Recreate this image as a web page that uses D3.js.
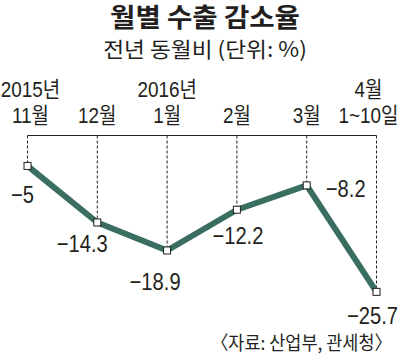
<!DOCTYPE html>
<html>
<head>
<meta charset="utf-8">
<script src="https://cdn.jsdelivr.net/npm/d3@7"></script>
<style>
  body { margin: 0; background: #fff; }
  svg { display: block; }
  text { fill: #231f20; }
</style>
</head>
<body>
<svg id="chart" width="402" height="354"></svg>
<script>
const months = ['2015-11', '2015-12', '2016-01', '2016-02', '2016-03', '2016-04']
const values = [-5, -14.3, -18.9, -12.2, -8.2, -25.7]
const yearLabels = ['2015년', '', '2016년', '', '', '4월']
const monthLabels = ['11월', '12월', '1월', '2월', '3월', '1~10일']
const title = '월별 수출 감소율'
const subtitle = '전년 동월비 (단위: %)'
const source = '〈자료: 산업부, 관세청〉'

// label nudges relative to each point (layout only)
const labelNudge = [[-5, 37], [-15, 30], [-12, 40], [1, 34], [39, 12], [-4, 32]]
const columnNudge = [3, 0, 0, 0, 0, -8]

const svg = d3.select('#chart')
const latin = '"Liberation Sans", "Noto Sans CJK KR", sans-serif'
const kr = '"Noto Sans CJK KR", sans-serif'

const addText = (str, x, y, opt) => {
  return svg.append('text')
    .attr('transform', 'translate(' + x + ',' + y + ') scale(' + (opt.sx || 1) + ',1)')
    .attr('text-anchor', opt.anchor || 'middle')
    .style('font-family', opt.family || latin)
    .style('font-size', opt.size + 'px')
    .style('font-weight', opt.weight || 400)
    .text(str)
}

const x = d3.scalePoint()
  .domain(months)
  .range([27.5, 376.5])

const y = d3.scaleLinear()
  .domain([0, -30])
  .range([135.5, 318])

// titles
addText(title, 205, 27, { size: 26, weight: 700, family: kr, sx: 1.06 })
addText(subtitle, 205, 57, { size: 21, family: kr, sx: 1.08 })

// category labels
months.forEach((m, i) => {
  const cx = x(m) + columnNudge[i]
  if (yearLabels[i]) addText(yearLabels[i], cx, 97, { size: 22, sx: 0.86 })
  addText(monthLabels[i], cx, 123, { size: 22, sx: 0.86 })
})

// zero line along the top
svg.append('line')
  .attr('x1', x(months[0]))
  .attr('x2', x(months[months.length - 1]))
  .attr('y1', y(0))
  .attr('y2', y(0))
  .attr('stroke', '#231f20')
  .attr('stroke-width', 1)

// dashed drop lines
svg.selectAll('.drop')
  .data(values)
  .enter().append('line')
  .attr('class', 'drop')
  .attr('x1', (d, i) => x(months[i]))
  .attr('x2', (d, i) => x(months[i]))
  .attr('y1', y(0))
  .attr('y2', d => y(d))
  .attr('stroke', '#231f20')
  .attr('stroke-width', 1)
  .attr('stroke-dasharray', '3,2')

const line = d3.line()
  .x((d, i) => x(months[i]))
  .y(d => y(d))

svg.append('path')
  .datum(values)
  .attr('fill', 'none')
  .attr('stroke', '#3a6e61')
  .attr('stroke-width', 6)
  .attr('stroke-linejoin', 'round')
  .attr('d', line)

svg.selectAll('.pt')
  .data(values)
  .enter().append('rect')
  .attr('class', 'pt')
  .attr('x', (d, i) => x(months[i]) - 3.5)
  .attr('y', d => y(d) - 3.5)
  .attr('width', 7)
  .attr('height', 7)
  .attr('fill', '#fff')
  .attr('stroke', '#231f20')
  .attr('stroke-width', 1)

// value labels
values.forEach((v, i) => {
  const str = '\u2212' + String(Math.abs(v))
  addText(str, x(months[i]) + labelNudge[i][0], y(v) + labelNudge[i][1], { size: 24, sx: 0.84 })
})

addText(source, 392, 350, { size: 19, family: kr, anchor: 'end', sx: 0.92 })
</script>
</body>
</html>
